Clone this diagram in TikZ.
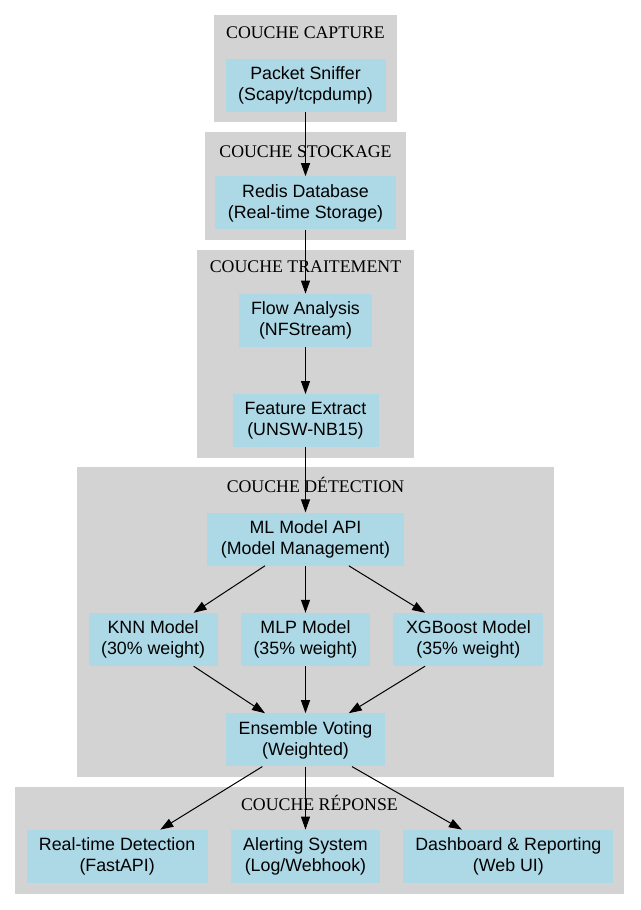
\documentclass[tikz,border=0pt]{standalone}
\usepackage{fontspec}
\setmainfont{Liberation Serif}
\newfontfamily\boxfont{Liberation Sans}
\usetikzlibrary{arrows.meta,positioning}
\definecolor{layergray}{RGB}{211,211,211}
\definecolor{boxblue}{RGB}{173,216,230}

\begin{document}
\begin{tikzpicture}[x=1pt, y=-1pt,
    compbox/.style={rectangle, fill=boxblue, minimum height=53pt, inner sep=0pt, align=center, font=\boxfont\fontsize{17.8}{21}\selectfont},
    layertitle/.style={inner sep=0pt, font=\fontsize{17.8}{21}\selectfont},
    flow/.style={-{Triangle[length=13pt,width=9pt]}, line width=1pt}
]
    \useasboundingbox[fill=white] (0,0) rectangle (640,910);

    % Layers
    \fill[layergray] (214,15) rectangle (397,122);
    \fill[layergray] (205,132) rectangle (406,240);
    \fill[layergray] (197,250) rectangle (414,458);
    \fill[layergray] (77,467) rectangle (554,777);
    \fill[layergray] (15,787) rectangle (624,894);
    \node[layertitle] (tcapture) at (305.5,33) {COUCHE CAPTURE};
    \node[layertitle] (tstockage) at (305.5,152) {COUCHE STOCKAGE};
    \node[layertitle] (ttraitement) at (305.5,267) {COUCHE TRAITEMENT};
    \node[layertitle] (tdetection) at (315.5,485) {COUCHE DÉTECTION};
    \node[layertitle] (treponse) at (319.5,803) {COUCHE RÉPONSE};

    % Capture / Stockage / Traitement
    \node[compbox, minimum width=160pt] (sniffer) at (305.5,85.5) {Packet Sniffer\\(Scapy/tcpdump)};
    \node[compbox, minimum width=181pt, below=64pt of sniffer] (redis) {Redis Database\\(Real-time Storage)};
    \node[compbox, minimum width=133pt, below=64pt of redis] (flowan) {Flow Analysis\\(NFStream)};
    \node[compbox, minimum width=146pt, below=47pt of flowan] (feature) {Feature Extract\\(UNSW-NB15)};

    % Detection
    \node[compbox, minimum width=197pt, below=65pt of feature] (api) {ML Model API\\(Model Management)};
    \node[compbox, minimum width=129pt, below=47pt of api] (mlp) {MLP Model\\(35\% weight)};
    \node[compbox, minimum width=129pt, left=23pt of mlp] (knn) {KNN Model\\(30\% weight)};
    \node[compbox, minimum width=150pt, right=23pt of mlp] (xgb) {XGBoost Model\\(35\% weight)};
    \node[compbox, minimum width=159pt, below=47pt of mlp] (ensemble) {Ensemble Voting\\(Weighted)};

    % Reponse
    \node[compbox, minimum width=149pt, below=63pt of ensemble] (alert) {Alerting System\\(Log/Webhook)};
    \node[compbox, minimum width=181pt, left=23pt of alert] (realtime) {Real-time Detection\\(FastAPI)};
    \node[compbox, minimum width=210pt, right=23pt of alert] (dash) {Dashboard \& Reporting\\(Web UI)};

    % Arrows
    \draw[flow] (sniffer) -- (redis);
    \draw[flow] (redis) -- (flowan);
    \draw[flow] (flowan) -- (feature);
    \draw[flow] (feature) -- (api);
    \draw[flow] (api) -- (knn);
    \draw[flow] (api) -- (mlp);
    \draw[flow] (api) -- (xgb);
    \draw[flow] (knn) -- (ensemble);
    \draw[flow] (mlp) -- (ensemble);
    \draw[flow] (xgb) -- (ensemble);
    \draw[flow] (ensemble) -- (realtime);
    \draw[flow] (ensemble) -- (alert);
    \draw[flow] (ensemble) -- (dash);

\end{tikzpicture}
\end{document}
